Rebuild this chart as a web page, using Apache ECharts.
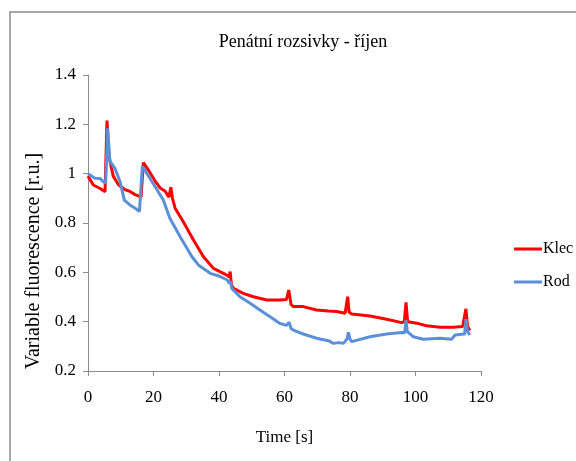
<!DOCTYPE html>
<html>
<head>
<meta charset="utf-8">
<script src="https://cdn.jsdelivr.net/npm/echarts@6/dist/echarts.min.js"></script>
<style>
  html, body { margin: 0; padding: 0; background: #fff; }
  #chart { width: 576px; height: 461px; }
</style>
</head>
<body>
<div id="chart"></div>
<script>
// values
const klecTime = [0, 1.6, 3.7, 5.2, 5.5, 5.8, 6.4, 7.7, 9.3, 11.3, 12.8, 14.4, 15.4, 16.2, 16.9, 17.5, 18.9, 20.5, 22, 23.5, 24.7, 25.3, 25.8, 26.6, 29.1, 32.2, 35.2, 38.3, 42.4, 43.1, 43.4, 43.8, 44.4, 47.4, 50.5, 54.6, 58.6, 60.6, 61.3, 62, 62.7, 65.7, 69.8, 73.4, 75.9, 78.5, 79, 79.3, 79.7, 80.5, 86.1, 91.2, 95.8, 96.6, 97.1, 97.6, 97.8, 100.4, 103.4, 107.5, 111.5, 114.4, 115, 115.4, 115.9, 116.6];
const klecValues = [0.99, 0.954, 0.94, 0.927, 0.925, 1.215, 1.07, 0.99, 0.955, 0.935, 0.928, 0.915, 0.91, 0.905, 1.045, 1.04, 1.005, 0.97, 0.942, 0.93, 0.905, 0.945, 0.9, 0.86, 0.805, 0.731, 0.664, 0.616, 0.589, 0.58, 0.603, 0.55, 0.535, 0.515, 0.501, 0.488, 0.488, 0.49, 0.528, 0.47, 0.461, 0.461, 0.447, 0.443, 0.441, 0.434, 0.44, 0.501, 0.44, 0.431, 0.423, 0.41, 0.396, 0.4, 0.478, 0.4, 0.394, 0.394, 0.383, 0.377, 0.377, 0.38, 0.385, 0.452, 0.38, 0.364];

const rodTime = [0, 0.3, 2.1, 3.7, 4.7, 5.4, 6, 6.7, 8.2, 9.8, 11.1, 12.8, 14.4, 15.7, 16, 16.6, 17.2, 19.9, 23, 25, 28.1, 31.7, 33.7, 37.3, 40, 42.4, 43.2, 43.5, 43.9, 46.4, 49.5, 52.5, 55.6, 58.6, 60.6, 61.4, 62, 62.7, 65.7, 69.8, 73.4, 74.9, 76.4, 78, 79.1, 79.5, 80, 80.5, 86.1, 91.2, 95.8, 96.7, 97.1, 97.5, 97.8, 99.3, 102.4, 107.5, 111, 112.1, 114.1, 115, 115.4, 115.9, 116.6];
const rodValues = [1.0, 0.995, 0.981, 0.98, 0.968, 0.961, 1.184, 1.05, 1.022, 0.967, 0.893, 0.873, 0.86, 0.846, 0.84, 1.03, 1.03, 0.96, 0.893, 0.819, 0.745, 0.664, 0.63, 0.596, 0.585, 0.57, 0.555, 0.565, 0.535, 0.501, 0.475, 0.447, 0.42, 0.393, 0.385, 0.398, 0.372, 0.366, 0.35, 0.333, 0.323, 0.312, 0.315, 0.312, 0.33, 0.357, 0.33, 0.319, 0.339, 0.35, 0.356, 0.355, 0.407, 0.36, 0.353, 0.339, 0.329, 0.333, 0.329, 0.346, 0.349, 0.35, 0.41, 0.36, 0.346];

const seriesNames = ["Klec", "Rod"];
const titleText = "Penátní rozsivky - říjen";
const xName = "Time [s]";
const yName = "Variable fluorescence [r.u.]";

const font = "'Liberation Serif', 'DejaVu Serif', serif";
const axisGray = "#8c8c8c";

const pairs = (ts, vs) => ts.map((t, i) => [t, vs[i]]);

const chart = echarts.init(document.getElementById("chart"));
chart.setOption({
  backgroundColor: "#fff",
  animation: false,
  title: {
    text: titleText,
    left: 298,
    top: 28,
    textAlign: "center",
    textStyle: { fontFamily: font, fontSize: 18, fontWeight: "normal", color: "#000" }
  },
  legend: {
    orient: "vertical",
    left: 509,
    top: 236,
    itemWidth: 28,
    itemHeight: 3,
    itemGap: 17,
    icon: "rect",
    textStyle: { fontFamily: font, fontSize: 16, color: "#000", padding: [0, 0, 0, -4] },
    data: seriesNames
  },
  graphic: [
    {
      type: "rect",
      shape: { x: 10, y: 12, width: 620, height: 520 },
      style: { fill: "none", stroke: "#8a8a8a", lineWidth: 1.5 },
      silent: true
    }
  ],
  grid: { left: 88, right: 95, top: 75, bottom: 90 },
  xAxis: {
    type: "value",
    min: 0,
    max: 120,
    interval: 20,
    name: xName,
    nameLocation: "middle",
    nameGap: 58,
    nameTextStyle: { fontFamily: font, fontSize: 17, color: "#000" },
    axisLine: { lineStyle: { color: axisGray, width: 1 } },
    axisTick: { show: true, length: 5, lineStyle: { color: axisGray } },
    axisLabel: { fontFamily: font, fontSize: 17, color: "#000", margin: 18 },
    splitLine: { show: false }
  },
  yAxis: {
    type: "value",
    min: 0.2,
    max: 1.4,
    interval: 0.2,
    name: yName,
    nameLocation: "middle",
    nameGap: 42,
    nameTextStyle: { fontFamily: font, fontSize: 20, color: "#000", padding: [0, 76, 0, 0] },
    axisLine: { show: true, lineStyle: { color: axisGray, width: 1 } },
    axisTick: { show: true, length: 5, lineStyle: { color: axisGray } },
    axisLabel: {
      fontFamily: font, fontSize: 17, color: "#000", margin: 12,
      formatter: v => String(Math.round(v * 10) / 10)
    },
    splitLine: { show: false }
  },
  series: [
    {
      name: seriesNames[0],
      type: "line",
      data: pairs(klecTime, klecValues),
      showSymbol: false,
      lineStyle: { color: "#ff0000", width: 3 },
      itemStyle: { color: "#ff0000" }
    },
    {
      name: seriesNames[1],
      type: "line",
      data: pairs(rodTime, rodValues),
      showSymbol: false,
      lineStyle: { color: "#5b8fd7", width: 3 },
      itemStyle: { color: "#5b8fd7" }
    }
  ]
});
</script>
</body>
</html>
